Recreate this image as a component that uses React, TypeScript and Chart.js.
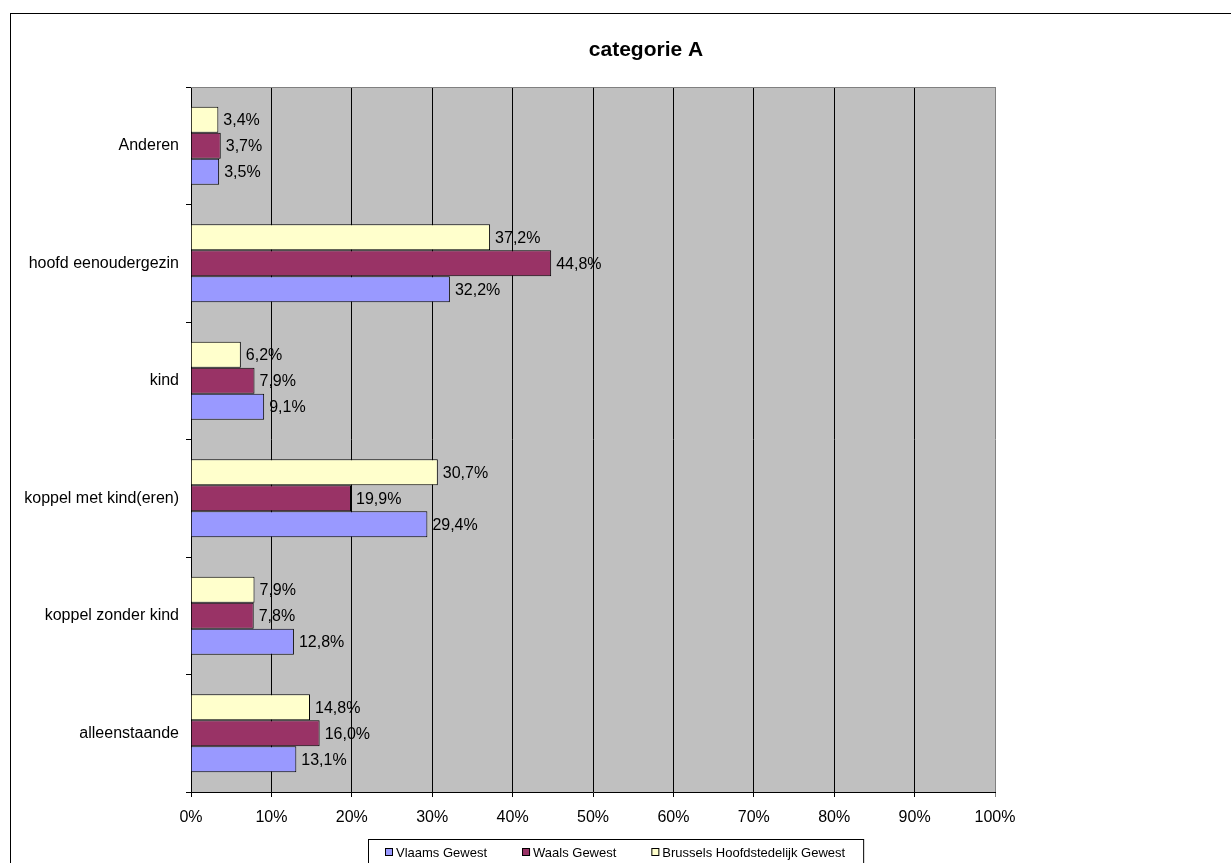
import React, { useEffect, useRef } from "react";
import { Chart, registerables } from "chart.js";

Chart.register(...registerables);

const TITLE = "categorie A";
const categories = [
  "Anderen",
  "hoofd eenoudergezin",
  "kind",
  "koppel met kind(eren)",
  "koppel zonder kind",
  "alleenstaande",
];
const brussels = [3.4, 37.2, 6.2, 30.7, 7.9, 14.8];
const waals = [3.7, 44.8, 7.9, 19.9, 7.8, 16.0];
const vlaams = [3.5, 32.2, 9.1, 29.4, 12.8, 13.1];
const seriesNames = ["Brussels Hoofdstedelijk Gewest", "Waals Gewest", "Vlaams Gewest"];
const seriesColors = ["#FFFFCC", "#993366", "#9999FF"];
const xTicks = [0, 10, 20, 30, 40, 50, 60, 70, 80, 90, 100];

const FONT = "'Liberation Sans', Arial, sans-serif";
const W = 1231;
const H = 863;

const fmt = (v: number) => v.toFixed(1).replace(".", ",") + "%";

const decorPlugin = {
  id: "decor",
  beforeDraw(chart: any) {
    const { ctx, chartArea } = chart;
    ctx.save();
    ctx.fillStyle = "#ffffff";
    ctx.fillRect(0, 0, W, H);
    ctx.fillStyle = "#C0C0C0";
    ctx.fillRect(chartArea.left, chartArea.top, chartArea.right - chartArea.left, chartArea.bottom - chartArea.top);
    ctx.strokeStyle = "#000";
    ctx.lineWidth = 1;
    ctx.strokeRect(10.5, 13.5, 1400, 1000);
    ctx.restore();
  },
  beforeDatasetsDraw(chart: any) {
    const { ctx, chartArea } = chart;
    ctx.save();
    ctx.strokeStyle = "#808080";
    ctx.lineWidth = 1;
    ctx.beginPath();
    ctx.moveTo(chartArea.left, chartArea.top + 0.5);
    ctx.lineTo(chartArea.right + 1, chartArea.top + 0.5);
    ctx.stroke();
    ctx.restore();
  },
  afterDatasetsDraw(chart: any) {
    const { ctx } = chart;
    ctx.save();
    ctx.font = `16px ${FONT}`;
    ctx.fillStyle = "#000";
    ctx.textAlign = "left";
    ctx.textBaseline = "middle";
    chart.data.datasets.forEach((ds: any, di: number) => {
      const meta = chart.getDatasetMeta(di);
      meta.data.forEach((el: any, i: number) => {
        ctx.fillText(fmt(ds.data[i]), el.x + 5, el.y + 1);
      });
    });
    ctx.restore();
  },
  afterDraw(chart: any) {
    const { ctx } = chart;
    ctx.save();
    // title
    ctx.font = `bold 21px ${FONT}`;
    ctx.fillStyle = "#000";
    ctx.textAlign = "center";
    ctx.textBaseline = "middle";
    ctx.fillText(TITLE, 646, 50);

    // legend (in order Vlaams, Waals, Brussels)
    ctx.font = `13px ${FONT}`;
    const items = chart.data.datasets.map((d: any) => ({ label: d.label, color: d.backgroundColor })).reverse();
    const sq = 8;
    const gapSq = 3;
    const gapItem = 35;
    const padL = 17;
    const padR = 18;
    const widths = items.map((it: any) => ctx.measureText(it.label).width);
    let total = padL + padR;
    widths.forEach((w: number, i: number) => {
      total += sq + gapSq + w + (i < widths.length - 1 ? gapItem : 0);
    });
    const boxLeft = Math.round(616 - total / 2);
    const boxTop = 839;
    ctx.strokeStyle = "#000";
    ctx.lineWidth = 1;
    ctx.strokeRect(boxLeft + 0.5, boxTop + 0.5, total, 40);
    let x = boxLeft + padL;
    const cy = 852;
    ctx.textAlign = "left";
    items.forEach((it: any, i: number) => {
      ctx.fillStyle = it.color;
      ctx.fillRect(x, cy - sq / 2, sq, sq);
      ctx.strokeStyle = "#000";
      ctx.strokeRect(x + 0.5, cy - sq / 2 + 0.5, sq - 1, sq - 1);
      ctx.fillStyle = "#000";
      ctx.fillText(it.label, x + sq + gapSq, cy + 1);
      x += sq + gapSq + widths[i] + gapItem;
    });
    ctx.restore();
  },
};

export default function App() {
  const ref = useRef<HTMLCanvasElement | null>(null);
  useEffect(() => {
    if (!ref.current) return;
    const chart = new Chart(ref.current, {
      type: "bar",
      data: {
        labels: categories,
        datasets: [
          { label: seriesNames[0], data: brussels, backgroundColor: seriesColors[0] },
          { label: seriesNames[1], data: waals, backgroundColor: seriesColors[1] },
          { label: seriesNames[2], data: vlaams, backgroundColor: seriesColors[2] },
        ].map((d) => ({
          ...d,
          borderColor: "#000",
          borderWidth: 1,
          categoryPercentage: 0.664,
          barPercentage: 1.0,
        })),
      },
      options: {
        indexAxis: "y",
        animation: false,
        responsive: false,
        devicePixelRatio: 1,
        layout: { padding: { top: 87, right: 236, bottom: 0, left: 0 } },
        plugins: {
          legend: { display: false },
          title: { display: false },
          tooltip: { enabled: false },
        },
        scales: {
          x: {
            type: "linear",
            min: 0,
            max: 100,
            afterBuildTicks: (scale: any) => {
              scale.ticks = xTicks.map((v) => ({ value: v }));
            },
            afterFit: (scale: any) => {
              scale.height = 71;
            },
            ticks: {
              color: "#000",
              font: { family: FONT, size: 16 },
              padding: 11,
              maxRotation: 0,
              callback: (v: any) => v + "%",
            },
            grid: {
              color: (c: any) => (c.tick && c.tick.value === 100 ? "#808080" : "#000"),
              lineWidth: 1,
              tickLength: 5,
              drawTicks: true,
            },
            border: { display: true, color: "#000" },
          },
          y: {
            type: "category",
            afterFit: (scale: any) => {
              scale.width = 191;
            },
            ticks: {
              color: "#000",
              font: { family: FONT, size: 16 },
              padding: 7,
            },
            grid: {
              offset: true,
              drawOnChartArea: false,
              tickLength: 5,
              color: "#000",
            },
            border: { display: true, color: "#000" },
          },
        },
      },
      plugins: [decorPlugin],
    } as any);
    return () => chart.destroy();
  }, []);
  return (
    <div style={{ position: "fixed", left: 0, top: 0, width: W, height: H, overflow: "hidden", background: "#fff" }}>
      <canvas ref={ref} width={W} height={H} style={{ display: "block" }} />
    </div>
  );
}
